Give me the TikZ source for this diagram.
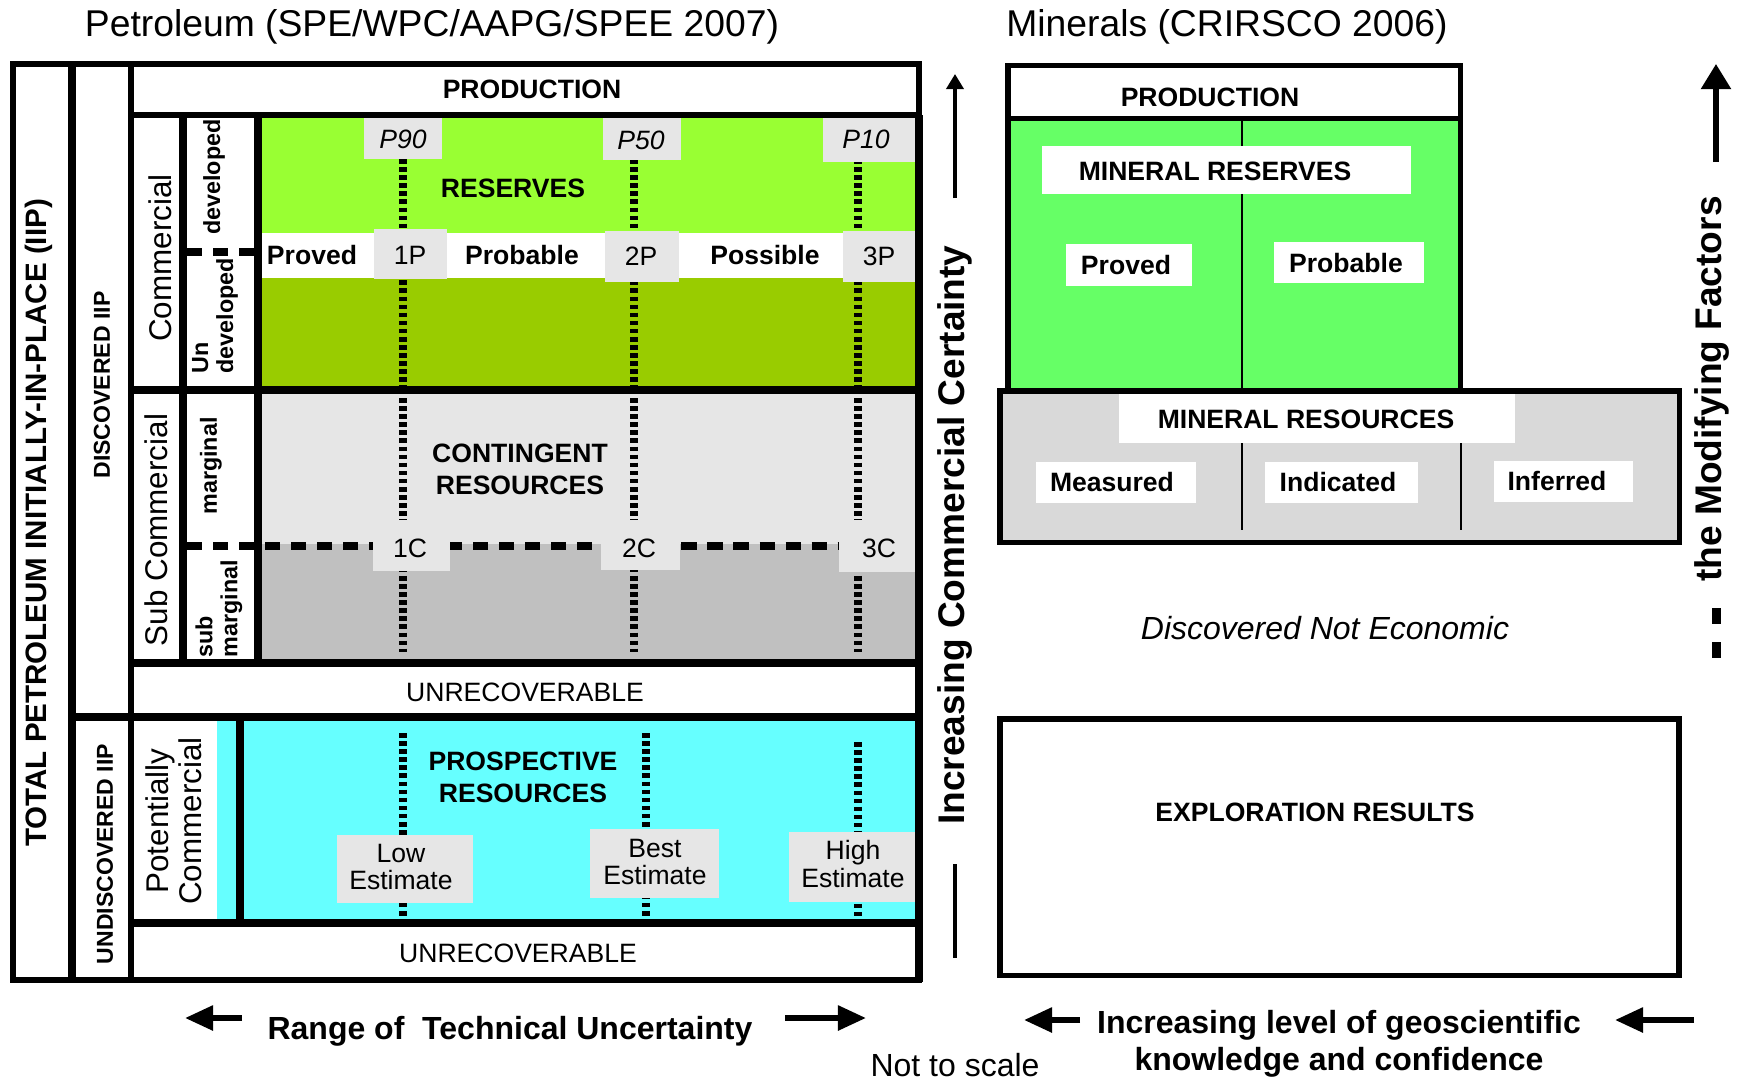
\documentclass[tikz,border=0pt]{standalone}
\usepackage{fontspec}
\setmainfont{Liberation Sans}
\usepackage{xcolor}
\usetikzlibrary{arrows.meta}

\definecolor{resgreen}{HTML}{99FF33}
\definecolor{undevgreen}{HTML}{99CC00}
\definecolor{contgrey}{HTML}{E6E6E6}
\definecolor{subgrey}{HTML}{C0C0C0}
\definecolor{prospcyan}{HTML}{66FFFF}
\definecolor{mingreen}{HTML}{66FF66}
\definecolor{mingrey}{HTML}{D9D9D9}

\tikzset{
	thinframe/.style={line width=1.45pt},
	thickframe/.style={line width=2.4pt},
	probline/.style={line width=2.3pt, dash pattern=on 1.3pt off 1pt},
	splitline/.style={line width=2pt, dash pattern=on 4.3pt off 3.1pt},
	divline/.style={line width=0.55pt},
	bigarrow/.style={line width=1.6pt, -{Triangle[length=0.28cm, width=0.24cm]}},
	titletext/.style={font=\fontsize{10.6}{12}\selectfont, inner sep=0pt},
	cattext/.style={font=\fontsize{7.55}{9.1}\selectfont\bfseries, inner sep=0pt, align=center},
	plaintext/.style={font=\fontsize{7.55}{7.7}\selectfont, inner sep=0pt, align=center},
	pvaltext/.style={font=\fontsize{7.55}{9}\selectfont\itshape, inner sep=0pt},
	sidetext/.style={font=\fontsize{8.93}{9.4}\selectfont, inner sep=0pt, rotate=90, align=center},
	subcattext/.style={font=\fontsize{6.63}{7.1}\selectfont\bfseries, inner sep=0pt, rotate=90, align=left},
	iiptext/.style={font=\fontsize{6.55}{7}\selectfont\bfseries, inner sep=0pt, rotate=90},
	totaltext/.style={font=\fontsize{8.4}{9}\selectfont\bfseries, inner sep=0pt, rotate=90},
	axistext/.style={font=\fontsize{9.1}{10.6}\selectfont\bfseries, inner sep=0pt, align=center},
	notetext/.style={font=\fontsize{9.1}{10.5}\selectfont, inner sep=0pt},
	bigaxis/.style={font=\fontsize{10.55}{12}\selectfont\bfseries, inner sep=0pt, rotate=90},
}

\begin{document}
\begin{tikzpicture}[x=0.01cm, y=-0.01cm]
	\useasboundingbox (0,0) rectangle (1741,1078);

	% titles
	\node[titletext] (pettitle) at (432,27) {Petroleum (SPE/WPC/AAPG/SPEE 2007)};
	\node[titletext] (mintitle) at (1227,27) {Minerals (CRIRSCO 2006)};

	% petroleum: fills
	\fill[resgreen] (258,115) rectangle (919,233);
	\fill[white] (258,233) rectangle (919,278);
	\fill[undevgreen] (258,278) rectangle (919,390);
	\fill[contgrey] (258,390) rectangle (919,544);
	\fill[subgrey] (258,544) rectangle (919,663);
	\fill[prospcyan] (217,717) rectangle (919,923);

	% P90 / P50 / P10 lines
	\foreach \x/\ya/\yb in {403/159/386, 634/159/386, 858/159/386,
		403/398/652, 634/398/652, 858/398/652,
		403/733/919, 646/733/919, 858/742/919}
	{
		\draw[probline] (\x,\ya) -- (\x,\yb);
	}

	\draw[splitline] (187,252) -- (254,252);
	\draw[splitline] (187,546) -- (915,546);

	% grey label boxes
	\foreach \xa/\ya/\xb/\yb in {364/118/442/159, 603/118/681/160, 823/118/915/162,
		374/229/447/279, 605/231/679/282, 843/231/915/282,
		373/520/450/571, 601/520/680/570, 839/520/915/572,
		337/835/473/903, 590/829/719/898, 789/832/916/902}
	{
		\fill[contgrey] (\xa,\ya) rectangle (\xb,\yb);
	}

	% frames
	\draw[thinframe] (13,64) rectangle (919,980);
	\draw[thickframe] (72,64) -- (72,982);
	\draw[thinframe] (131,64) -- (131,980);
	\draw[thinframe] (131,115) -- (919,115);
	\draw[thickframe] (919,115) -- (919,982);
	\draw[thickframe] (131,390) -- (919,390);
	\draw[thickframe] (131,663) -- (919,663);
	\draw[thickframe] (72,717) -- (919,717);
	\draw[thickframe] (131,923) -- (919,923);
	\draw[thickframe] (183,115) -- (183,663);
	\draw[thickframe] (258,115) -- (258,663);
	\draw[thickframe] (240,717) -- (240,923);

	% petroleum: labels
	\node[totaltext] (total) at (39,523) {TOTAL PETROLEUM INITIALLY-IN-PLACE (IIP)};
	\node[iiptext] (disc) at (102,385) {DISCOVERED IIP};
	\node[iiptext] (undisc) at (105,854) {UNDISCOVERED IIP};
	\node[sidetext] (comm) at (160,258) {Commercial};
	\node[sidetext] (subcomm) at (156,530) {Sub Commercial};
	\node[sidetext] (potcomm) at (174,821) {Potentially\\Commercial};
	\node[subcattext] (dev) at (214,177) {developed};
	\node[subcattext, anchor=west] (undev) at (215,374) {Un\\developed};
	\node[subcattext] (marg) at (211,466) {marginal};
	\node[subcattext, anchor=west] (submarg) at (219,658) {sub\\marginal};

	\node[cattext] (prod) at (532,89) {PRODUCTION};
	\node[cattext] (reserves) at (513,188) {RESERVES};
	\node[cattext] (contingent) at (520,469) {CONTINGENT\\RESOURCES};
	\node[cattext] (prospective) at (523,777) {PROSPECTIVE\\RESOURCES};
	\node[plaintext] (unrec) at (525,692) {UNRECOVERABLE};
	\node[plaintext] (unrecb) at (518,953) {UNRECOVERABLE};

	\node[pvaltext] (p90) at (403,139) {P90};
	\node[pvaltext] (p50) at (641,140) {P50};
	\node[pvaltext] (p10) at (866,139) {P10};
	\node[cattext] (proved) at (312,255) {Proved};
	\node[cattext] (probable) at (522,255) {Probable};
	\node[cattext] (possible) at (765,255) {Possible};
	\node[plaintext] (onep) at (410,255) {1P};
	\node[plaintext] (twop) at (641,256) {2P};
	\node[plaintext] (threep) at (879,256) {3P};
	\node[plaintext] (onec) at (410,548) {1C};
	\node[plaintext] (twoc) at (639,548) {2C};
	\node[plaintext] (threec) at (879,548) {3C};
	\node[plaintext] (low) at (401,867) {Low\\Estimate};
	\node[plaintext] (best) at (655,862) {Best\\Estimate};
	\node[plaintext] (high) at (853,864) {High\\Estimate};

	% commercial certainty axis
	\node[bigaxis] (certainty) at (955,535) {Increasing Commercial Certainty};
	\draw[line width=1pt, -{Triangle[length=0.15cm, width=0.17cm]}] (955,198) -- (955,74);
	\draw[line width=1.4pt] (955,864) -- (955,958);

	% technical uncertainty axis
	\node[axistext] (range) at (510,1031) {Range of~ Technical Uncertainty};
	\coordinate (rangeL) at (185,1018);
	\coordinate (rangeR) at (866,1018);
	\draw[bigarrow] (242,1018) -- (rangeL);
	\draw[bigarrow] (785,1018) -- (rangeR);
	\node[notetext] (scale) at (955,1065) {Not to scale};

	% minerals
	\fill[mingreen] (1008,118) rectangle (1460,390);
	\draw[thinframe] (1008,65.5) rectangle (1460.5,392);
	\draw[thinframe] (1008,118.5) -- (1460.5,118.5);
	\draw[divline] (1242,118) -- (1242,390);
	\filldraw[thinframe, fill=mingrey] (1000,391) rectangle (1679.5,542.5);
	\draw[divline] (1242,443) -- (1242,530);
	\draw[divline] (1461,443) -- (1461,530);

	\foreach \xa/\ya/\xb/\yb in {1042/146/1411/194, 1066/244/1192/286, 1274/242/1424/283,
		1119/394/1515/443, 1036/462/1196/503, 1265/462/1418/503, 1494/461/1633/502}
	{
		\fill[white] (\xa,\ya) rectangle (\xb,\yb);
	}

	\node[cattext] (minprod) at (1210,97) {PRODUCTION};
	\node[cattext] (minres) at (1215,171) {MINERAL RESERVES};
	\node[cattext] (minproved) at (1126,265) {Proved};
	\node[cattext] (minprobable) at (1346,263) {Probable};
	\node[cattext] (minresources) at (1306,419) {MINERAL RESOURCES};
	\node[cattext] (measured) at (1112,482) {Measured};
	\node[cattext] (indicated) at (1338,482) {Indicated};
	\node[cattext] (inferred) at (1557,481) {Inferred};

	\node[notetext, font=\fontsize{9.1}{10.5}\selectfont\itshape] (notecon) at (1325,628) {Discovered Not Economic};

	\draw[thinframe] (1000,719) rectangle (1679,975.5);
	\node[cattext] (explo) at (1315,812) {EXPLORATION RESULTS};

	% geoscientific knowledge axis
	\node[axistext] (geo) at (1339,1044) {Increasing level of geoscientific\\knowledge and confidence};
	\coordinate (geoL) at (1024,1020);
	\coordinate (geoR) at (1615,1020);
	\draw[bigarrow] (1080,1020) -- (geoL);
	\draw[bigarrow] (1694,1020) -- (geoR);

	% modifying factors axis
	\node[bigaxis] (modif) at (1712,389) {the Modifying Factors};
	\draw[bigarrow, line width=1.5pt, -{Triangle[length=0.25cm, width=0.29cm]}] (1716,162) -- (1716,64);
	\fill (1712,608) rectangle (1721,624);
	\fill (1712,642) rectangle (1721,658);

\end{tikzpicture}
\end{document}
